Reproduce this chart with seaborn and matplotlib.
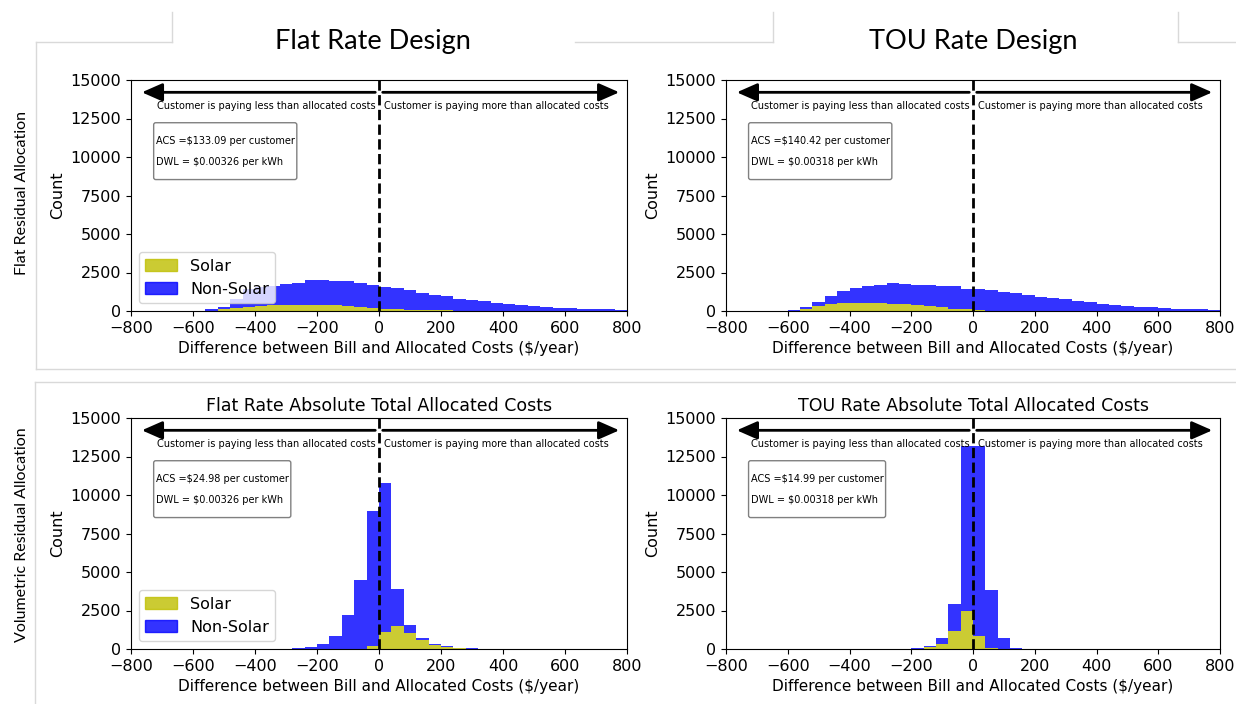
import numpy as np
import pandas as pd
import seaborn as sns
import matplotlib.pyplot as plt
from matplotlib.patches import Patch
from matplotlib.lines import Line2D

#========================================================================================================
# Data: counts per 40 $/year bin, from -800 to 800
#========================================================================================================

bin_width = 40
bin_mid = np.arange(-800, 800, bin_width) + bin_width/2

#Flat rate design, flat residual allocation
flat_solar = [0, 0, 0, 0, 0, 5, 30, 130, 215, 280,
              330, 370, 400, 420, 420, 400, 370, 320, 270, 210,
              150, 110, 85, 65, 45, 35, 25, 20, 15, 12,
              10, 8, 6, 5, 4, 3, 3, 2, 2, 2]
flat_nonsolar = [0, 0, 0, 0, 0, 10, 80, 160, 565, 1170,
                 1230, 1270, 1350, 1430, 1610, 1590, 1600, 1600, 1560, 1510,
                 1430, 1360, 1280, 1130, 995, 915, 775, 715, 610, 510,
                 430, 355, 310, 265, 220, 200, 155, 138, 118, 93]

#TOU rate design, flat residual allocation
tou_solar = [0, 0, 0, 0, 0, 20, 110, 310, 430, 490,
             520, 540, 540, 470, 430, 370, 310, 240, 160, 100,
             45, 25, 15, 10, 6, 4, 3, 2, 2, 2,
             2, 1, 1, 1, 1, 1, 1, 1, 1, 1]
tou_nonsolar = [0, 0, 0, 0, 0, 45, 130, 270, 520, 790,
                980, 1110, 1140, 1350, 1330, 1330, 1350, 1410, 1490, 1360,
                1400, 1320, 1235, 1150, 1035, 925, 830, 750, 640, 550,
                480, 400, 345, 280, 240, 195, 150, 130, 110, 85]

#Flat rate design, volumetric residual allocation
flat_abs_solar = [0, 0, 0, 0, 0, 0, 0, 0, 0, 0,
                  0, 0, 0, 0, 0, 0, 0, 0, 20, 200,
                  1130, 1480, 1050, 555, 250, 130, 80, 30, 10, 0,
                  0, 0, 0, 0, 0, 0, 0, 0, 0, 0]
flat_abs_nonsolar = [0, 0, 0, 0, 0, 0, 0, 0, 0, 0,
                     0, 0, 10, 45, 100, 330, 850, 2200, 4480, 8750,
                     9620, 2400, 540, 165, 80, 40, 15, 10, 2, 0,
                     0, 0, 0, 0, 0, 0, 0, 0, 0, 0]

#TOU rate design, volumetric residual allocation
tou_abs_solar = [0, 0, 0, 0, 0, 0, 0, 0, 0, 0,
                 0, 0, 0, 0, 0, 20, 150, 325, 1170, 2500,
                 850, 65, 10, 0, 0, 0, 0, 0, 0, 0,
                 0, 0, 0, 0, 0, 0, 0, 0, 0, 0]
tou_abs_nonsolar = [0, 0, 0, 0, 0, 0, 0, 0, 0, 0,
                    0, 0, 0, 0, 10, 65, 65, 370, 1740, 10700,
                    12300, 3735, 730, 85, 10, 0, 0, 0, 0, 0,
                    0, 0, 0, 0, 0, 0, 0, 0, 0, 0]

acs_values = ['133.09', '140.42', '24.98', '14.99']
dwl_values = ['0.00326', '0.00318', '0.00326', '0.00318']
panel_titles = [None, None, 'Flat Rate Absolute Total Allocated Costs', 'TOU Rate Absolute Total Allocated Costs']

#========================================================================================================
# Figure
#========================================================================================================

W, H = 1236, 704
fig = plt.figure(figsize=(W/100, H/100), dpi=100)

def px(x0, y0, x1, y1):
    #pixel box -> figure fraction rect
    return [x0/W, 1 - y1/H, (x1-x0)/W, (y1-y0)/H]

rects = [px(131, 80, 627, 311), px(726, 80, 1220, 311),
         px(131, 418, 627, 649), px(726, 418, 1220, 649)]
series = [(flat_solar, flat_nonsolar), (tou_solar, tou_nonsolar),
          (flat_abs_solar, flat_abs_nonsolar), (tou_abs_solar, tou_abs_nonsolar)]
colors = {'Solar': 'y', 'Non-Solar': 'b'}

for i, (rect, (solar, nonsolar)) in enumerate(zip(rects, series)):
    ax = fig.add_axes(rect)
    df = pd.DataFrame({'x': np.concatenate([bin_mid, bin_mid]),
                       'count': list(solar) + list(nonsolar),
                       'group': ['Solar']*len(solar) + ['Non-Solar']*len(nonsolar)})
    sns.histplot(data=df, x='x', weights='count', hue='group', hue_order=['Non-Solar', 'Solar'],
                 multiple='stack', binwidth=bin_width, binrange=(-800, 800), palette=colors, alpha=0.8,
                 linewidth=0, legend=False, ax=ax)

    ax.set_xlim(-800, 800)
    ax.set_ylim(0, 15000)
    ax.set_xticks(np.arange(-800, 801, 200))
    ax.set_yticks(np.arange(0, 15001, 2500))
    ax.tick_params(labelsize=11.5)
    ax.set_xlabel('Difference between Bill and Allocated Costs ($/year)', fontsize=11)
    ax.set_ylabel('Count', fontsize=11.5)
    if panel_titles[i]:
        ax.set_title(panel_titles[i], fontsize=12.5, pad=5)

    #Zero line and direction arrows
    ax.axvline(0, color='k', ls='--', lw=2)
    astyle = dict(arrowstyle='-|>,head_length=0.5,head_width=0.22', color='k', lw=2,
                  mutation_scale=25, shrinkA=0, shrinkB=0)
    ax.annotate('', xy=(-765, 14200), xytext=(-12, 14200), arrowprops=astyle)
    ax.annotate('', xy=(775, 14200), xytext=(12, 14200), arrowprops=astyle)
    ax.text(-12, 13300, 'Customer is paying less than allocated costs', ha='right', va='center', fontsize=7)
    ax.text(15, 13300, 'Customer is paying more than allocated costs', ha='left', va='center', fontsize=7)

    #ACS / DWL box
    ax.text(-720, 10380, f'\nACS =\\${acs_values[i]} per customer\n\nDWL = \\${dwl_values[i]} per kWh\n',
            ha='left', va='center', fontsize=7, linespacing=1.08,
            bbox=dict(boxstyle='round,pad=0.22', fc='white', ec='gray'))

    if i in (0, 2):
        handles = [Patch(color='y', alpha=0.8, label='Solar'), Patch(color='b', alpha=0.8, label='Non-Solar')]
        ax.legend(handles=handles, loc='lower left', fontsize=11.5)

#Row / column headers
fig.text(373/W, 1 - 41/H, 'Flat Rate Design', family='Lato', fontsize=19.5, ha='center', va='center')
fig.text(973/W, 1 - 41/H, 'TOU Rate Design', family='Lato', fontsize=19.5, ha='center', va='center')
fig.text(22/W, 1 - 193/H, 'Flat Residual Allocation', family='Lato', fontsize=11.5, rotation=90, ha='center', va='center')
fig.text(22/W, 1 - 535/H, 'Volumetric Residual Allocation', family='Lato', fontsize=11.5, rotation=90, ha='center', va='center')

#Light gray frame segments
frame = [((36, 42), (172, 42)), ((575, 42), (773, 42)), ((1178, 42), (1236, 42)),
         ((172, 12), (172, 42)), ((773, 12), (773, 42)), ((1178, 12), (1178, 42)),
         ((36, 42), (36, 369)), ((36, 369), (1236, 369)),
         ((35, 382), (1236, 382)), ((35, 382), (35, 704))]
for (x0, y0), (x1, y1) in frame:
    fig.add_artist(Line2D([x0/W, x1/W], [1 - y0/H, 1 - y1/H], color='#d9d9d9', lw=1))

plt.savefig('out.png', dpi=100)
plt.close()
